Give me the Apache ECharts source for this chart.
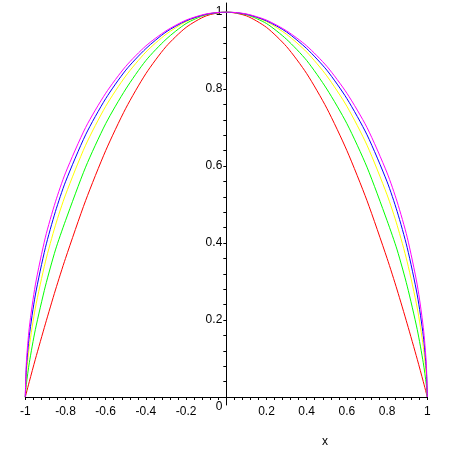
<!DOCTYPE html>
<html>
<head>
<meta charset="utf-8">
<script src="https://cdn.jsdelivr.net/npm/echarts@6/dist/echarts.min.js"></script>
<style>html,body{margin:0;padding:0;background:#fff;}#c{width:450px;height:450px;}</style>
</head>
<body>
<div id="c"></div>
<script>
var xs = [-1,-0.995,-0.98,-0.95,-0.9,-0.85,-0.8,-0.7,-0.6,-0.5,-0.4,-0.3,-0.2,-0.1,0,0.1,0.2,0.3,0.4,0.5,0.6,0.7,0.8,0.85,0.9,0.95,0.98,0.995,1];
var red     = [0,0.010,0.040,0.098,0.190,0.278,0.360,0.510,0.640,0.750,0.840,0.910,0.960,0.990,1,0.990,0.960,0.910,0.840,0.750,0.640,0.510,0.360,0.278,0.190,0.098,0.040,0.010,0];
var green   = [0,0.032,0.089,0.175,0.288,0.382,0.458,0.597,0.710,0.800,0.874,0.929,0.970,0.993,1,0.993,0.970,0.929,0.874,0.800,0.710,0.597,0.458,0.382,0.288,0.175,0.089,0.032,0];
var yellow  = [0,0.055,0.131,0.231,0.351,0.446,0.525,0.654,0.755,0.834,0.896,0.942,0.975,0.994,1,0.994,0.975,0.942,0.896,0.834,0.755,0.654,0.525,0.446,0.351,0.231,0.131,0.055,0];
var blue    = [0,0.072,0.159,0.265,0.388,0.482,0.559,0.681,0.775,0.849,0.905,0.948,0.977,0.994,1,0.994,0.977,0.948,0.905,0.849,0.775,0.681,0.559,0.482,0.388,0.265,0.159,0.072,0];
var magenta = [0,0.087,0.181,0.291,0.415,0.507,0.582,0.700,0.789,0.859,0.912,0.951,0.979,0.995,1,0.995,0.979,0.951,0.912,0.859,0.789,0.700,0.582,0.507,0.415,0.291,0.181,0.087,0];
var xTicks = [-1,-0.8,-0.6,-0.4,-0.2,0,0.2,0.4,0.6,0.8,1];
var yTicks = [0,0.2,0.4,0.6,0.8,1];
var axisName = 'x';

function pairs(ys){ return xs.map(function(x,i){ return [x, ys[i]]; }); }
var font = 'Liberation Sans';
var chart = echarts.init(document.getElementById('c'), null, {renderer:'canvas'});
function mk(name, ys, color){
  return {name:name, type:'line', data:pairs(ys), showSymbol:false, symbol:'none',
    smooth:0.25,
    lineStyle:{color:color, width:1}, xAxisIndex:0, yAxisIndex:0, animation:false};
}
var zeroX = 25.3 + 402 / 2;
chart.setOption({
  backgroundColor:'#fff',
  animation:false,
  grid:[
    {left:25.3, right:22.7, top:12, bottom:53},
    {left:zeroX, width:10, top:12, bottom:53},
    {left:zeroX, width:10, top:3, bottom:45}
  ],
  xAxis:[
    {type:'value', gridIndex:0, min:-1, max:1, interval:0.2,
     axisLine:{onZero:false, lineStyle:{color:'#000', width:1}},
     axisTick:{show:true, length:3, inside:false, lineStyle:{color:'#000'}},
     minorTick:{show:true, splitNumber:5, length:3, lineStyle:{color:'#000'}},
     splitLine:{show:false},
     axisLabel:{color:'#000', fontFamily:font, fontSize:12, margin:9,
       formatter:function(v){ if (Math.abs(v)<1e-9) return ''; return String(Math.round(v*10)/10); }}
    },
    {type:'value', gridIndex:1, min:0, max:1, show:false, axisLine:{onZero:false}},
    {type:'value', gridIndex:2, min:0, max:1, show:false, axisLine:{onZero:false}}
  ],
  yAxis:[
    {type:'value', gridIndex:0, min:0, max:1, show:false, axisLine:{onZero:false}},
    {type:'value', gridIndex:1, min:0, max:1, interval:0.2, position:'left',
     axisLine:{show:false, onZero:false},
     axisTick:{show:true, length:3, inside:false, lineStyle:{color:'#000'}},
     minorTick:{show:true, splitNumber:5, length:3, lineStyle:{color:'#000'}},
     splitLine:{show:false},
     axisLabel:{color:'#000', fontFamily:font, fontSize:12, margin:4,
       formatter:function(v){ if (Math.abs(v)<1e-9) return '{z|0}'; return String(Math.round(v*10)/10); },
       rich:{z:{color:'#000', fontFamily:font, fontSize:12, padding:[20,0,0,0]}}}
    },
    {type:'value', gridIndex:2, min:0, max:1, position:'left',
     axisLine:{show:true, onZero:false, lineStyle:{color:'#000', width:1}},
     axisTick:{show:false}, axisLabel:{show:false}, splitLine:{show:false}}
  ],
  graphic:[
    {type:'text', left:322, top:436, style:{text:axisName, fill:'#000', font:'12px "Liberation Sans"'}}
  ],
  series:[
    mk('red', red, '#ff0000'),
    mk('green', green, '#00ff00'),
    mk('yellow', yellow, '#ffff00'),
    mk('blue', blue, '#0000ff'),
    mk('magenta', magenta, '#ff00ff')
  ]
});
</script>
</body>
</html>
